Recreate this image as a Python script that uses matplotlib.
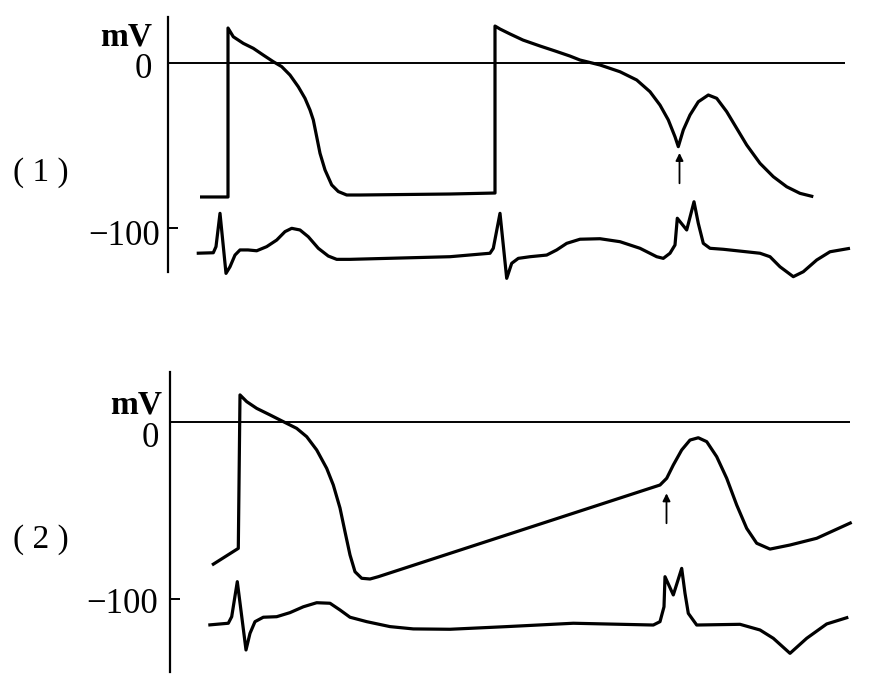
import matplotlib
matplotlib.use("Agg")
import matplotlib.pyplot as plt

# ---------------- data (time in arbitrary units, potential in mV) ----------------
# Panel (1): ventricular action potentials with an early premature response (arrow)
ap1_t = [200, 228, 228, 233.3, 243.3, 253.3, 263.3, 273.3, 281.7, 290, 298.3, 305, 310,
         313.3, 316.7, 320, 325, 331.7, 338.3, 346.7, 360,
         450, 495, 495, 500, 510, 523, 540, 555, 570, 580, 600, 620, 636.7, 650, 660,
         668.3, 675, 678.3,
         683.3, 690, 698.3, 708.3, 716.7, 726.7, 736.7, 746.7, 760, 773.3, 786.7, 800,
         813.3]
ap1_v = [-81.2, -81.2, 21.2, 15.9, 11.9, 8.9, 4.8, 0.8, -2.2, -7.3, -14.4, -21.4, -28.5,
         -34.5, -44.7, -54.7, -64.8, -73.9, -77.9, -80.0, -80.0,
         -79.4, -78.8, 22.4, 20.6, 17.6, 13.9, 10.3, 7.3, 4.2, 1.8, -1.2, -5.3, -10.3,
         -17.4, -25.5, -34.5, -44.7, -50.7,
         -40.6, -31.5, -23.5, -19.4, -21.4, -29.5, -39.6, -49.7, -60.8, -68.9, -75.0,
         -79.0, -81.0]
ecg1_t = [196.7, 213.3, 216, 220, 226, 230, 235, 240, 248, 256.7, 266.7, 276.7, 285,
          291.7, 300, 308.3, 318.3, 328.3, 336.7, 350, 450,
          490, 493.3, 500, 506.7, 511.7, 518.3, 530, 546.7, 556.7, 566.7, 580, 600, 620,
          640, 656.7, 663.3, 670, 675, 677.3, 686.7, 694, 698.3, 703.3, 710, 723.3,
          760, 770, 780, 793.3, 803.3, 816.7, 830, 850]
ecg1_v = [-115.3, -115.0, -111.3, -91.1, -127.5, -123.5, -116.4, -113.3, -113.3, -113.8,
          -111.3, -107.3, -102.2, -100.2, -101.2, -105.3, -112.3, -117.0, -119.0, -119.0,
          -117.4,
          -115.3, -112.3, -91.1, -130.5, -121.4, -118.4, -117.4, -116.4, -113.3, -109.3,
          -106.8, -106.5, -108.3, -112.3, -117.4, -118.4, -115.3, -110.3, -94.1, -101.2,
          -84.1, -97.2, -109.3, -112.3, -112.9,
          -115.3, -117.4, -123.5, -129.5, -126.5, -119.4, -114.4, -112.3]
arrow1_t = 679.5
arrow1_v = (-72.9, -54.5)

# Panel (2): action potential, slow diastolic depolarisation and a late response (arrow)
ap2_t = [212, 238.3, 240, 246.7, 256.7, 270, 283.3, 296.7, 306.7, 316.7, 326.7, 333.3,
         340, 345, 350, 355, 361.7, 370, 378.3,
         660, 666.7, 673.3, 681.7, 690, 698.3, 706.7, 716.7, 726.7, 736.7, 746.7, 756.7,
         770, 790, 816.7, 851.7]
ap2_v = [-80.8, -71.4, 15.3, 11.5, 7.7, 4.0, 0.2, -3.6, -8.3, -15.8, -26.2, -35.6,
         -48.6, -62.0, -75.1, -84.6, -88.3, -88.7, -87.4,
         -35.6, -31.8, -24.3, -15.8, -10.2, -8.9, -11.1, -19.6, -31.8, -46.9, -60.1,
         -68.5, -71.8, -69.5, -65.7, -56.7]
ecg2_t = [208.3, 228.3, 231.7, 237.3, 246, 250, 255, 263.3, 276.7, 290, 303.3, 316.7,
          330, 340, 350, 366.7, 390, 413.3, 450, 506.7, 573.3,
          653.3, 660, 664, 665, 673.3, 681.7, 685, 688.3, 696.7, 740, 760, 773.3, 790,
          806.7, 826.7, 848.3]
ecg2_v = [-114.7, -113.7, -110.0, -90.2, -128.8, -119.4, -112.8, -110.3, -110.0, -107.7,
          -104.4, -102.1, -102.4, -106.2, -110.3, -112.8, -115.6, -116.9, -117.1,
          -115.6, -113.7,
          -114.7, -112.8, -104.4, -87.4, -97.7, -82.7, -96.8, -108.1, -114.7, -114.3,
          -117.5, -122.2, -130.7, -122.2, -114.1, -110.3]
arrow2_t = 666.5
arrow2_v = (-57.2, -40.3)

panel_labels = ["( 1 )", "( 2 )"]
unit_label = "mV"
tick_labels = ["0", "\u2212100"]

# ---------------- figure ----------------
W, H = 886, 697
fig = plt.figure(figsize=(W / 100, H / 100), dpi=100)
fig.patch.set_facecolor("white")

SERIF = ["Liberation Serif", "DejaVu Serif"]
LW = 2.3


def make_panel(rect, ylim, axis_x, axis_span, zero_end, ap, ecg, arrow, label, label_y,
               txt):
    ax = fig.add_axes(rect)
    ax.set_xlim(0, W)
    ax.set_ylim(*ylim)
    for s in ("top", "right", "bottom"):
        ax.spines[s].set_visible(False)
    ax.spines["left"].set_position(("data", axis_x))
    ax.spines["left"].set_bounds(*axis_span)
    ax.spines["left"].set_linewidth(1.6)
    ax.set_xticks([])
    ax.set_yticks([-100])
    ax.tick_params(axis="y", direction="in", length=7, width=1.4, labelleft=False)
    ax.set_facecolor("none")

    ax.hlines(0, axis_x, zero_end, color="black", lw=1.4)
    ax.plot(ap[0], ap[1], color="black", lw=LW, solid_joinstyle="round",
            solid_capstyle="butt")
    ax.plot(ecg[0], ecg[1], color="black", lw=LW, solid_joinstyle="round",
            solid_capstyle="butt")
    ax.annotate("", xy=(arrow[0], arrow[1][1]), xytext=(arrow[0], arrow[1][0]),
                arrowprops=dict(arrowstyle="-|>", lw=1.3, color="black",
                                mutation_scale=11, shrinkA=0, shrinkB=0))

    (mv_dx, mv_y), (z_dx, z_y), (h_dx, h_y) = txt
    ax.text(axis_x - mv_dx, mv_y, unit_label, family=SERIF, fontsize=24,
            fontweight="bold", ha="right", va="baseline")
    ax.text(axis_x - z_dx, z_y, tick_labels[0], family=SERIF, fontsize=25,
            ha="center", va="baseline")
    ax.text(axis_x - h_dx, h_y, tick_labels[1], family=SERIF, fontsize=25,
            ha="right", va="baseline")
    ax.text(41, label_y, label, family=SERIF, fontsize=24, ha="center", va="center")
    return ax


# panel 1: 0 mV at y=63 px, -100 mV at y=228 px
s1 = 1.65
top1, bot1 = 0, 330
ylim1 = ((63 - bot1) / s1, (63 - top1) / s1)
make_panel([0, 1 - bot1 / H, 1, (bot1 - top1) / H], ylim1, 168,
           ((63 - 272) / s1, (63 - 17) / s1), 845,
           (ap1_t, ap1_v), (ecg1_t, ecg1_v), (arrow1_t, arrow1_v),
           panel_labels[0], (63 - 173) / s1,
           ((16, (63 - 46) / s1), (24.5, (63 - 78) / s1), (8, (63 - 245) / s1)))

# panel 2: 0 mV at y=422 px, -100 mV at y=599 px
s2 = 1.77
top2, bot2 = 330, H
ylim2 = ((422 - bot2) / s2, (422 - top2) / s2)
make_panel([0, 0, 1, (bot2 - top2) / H], ylim2, 170,
           ((422 - 672) / s2, (422 - 372) / s2), 850,
           (ap2_t, ap2_v), (ecg2_t, ecg2_v), (arrow2_t, arrow2_v),
           panel_labels[1], (422 - 540) / s2,
           ((8, (422 - 413) / s2), (20, (422 - 447) / s2), (12, (422 - 613) / s2)))

fig.savefig("out.png", dpi=100, facecolor="white")
